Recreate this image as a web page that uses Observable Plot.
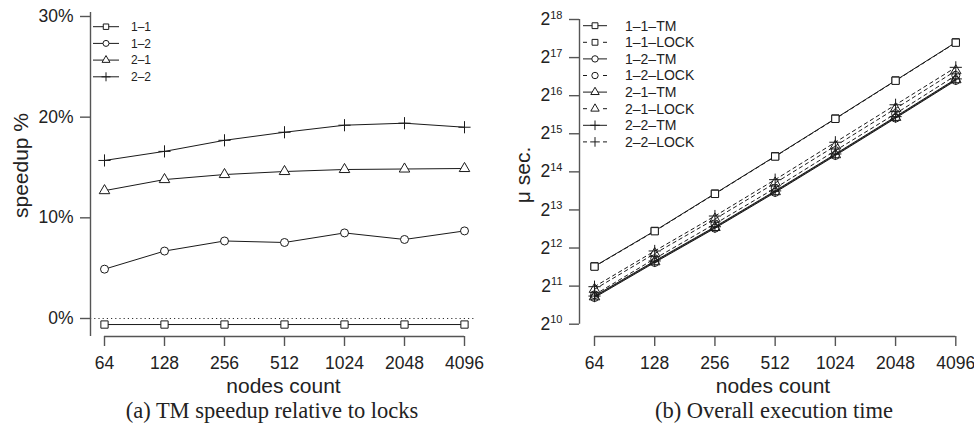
<!DOCTYPE html>
<html><head><meta charset="utf-8">
<script src="https://cdn.jsdelivr.net/npm/d3@7"></script>
<script src="https://cdn.jsdelivr.net/npm/@observablehq/plot@0.6"></script>
<style>
body{margin:0;background:#fff;}
#wrap{position:relative;width:974px;height:426px;overflow:hidden;font-family:"Liberation Sans",Arial,sans-serif;}
.panel{position:absolute;top:0;}
.cap{position:absolute;top:400px;font-family:"Liberation Serif","Times New Roman",serif;font-size:22.5px;line-height:22px;white-space:nowrap;transform:translateX(-50%);color:#222;}
</style></head><body>
<div id="wrap"></div>
<script>
// ---------- data ----------
const nodes = [64, 128, 256, 512, 1024, 2048, 4096];

// (a) TM speedup relative to locks, %
const speedupSeries = ["1–1", "1–2", "2–1", "2–2"];
const speedup11 = [-0.6, -0.6, -0.6, -0.6, -0.6, -0.6, -0.6];
const speedup12 = [4.9, 6.7, 7.7, 7.55, 8.5, 7.85, 8.7];
const speedup21 = [12.7, 13.8, 14.3, 14.6, 14.8, 14.85, 14.9];
const speedup22 = [15.7, 16.6, 17.7, 18.5, 19.2, 19.4, 19.0];
const speedupTicks = [0, 10, 20, 30];

// (b) Overall execution time, microseconds
const timeSeries = ["1–1–TM", "1–1–LOCK", "1–2–TM", "1–2–LOCK", "2–1–TM", "2–1–LOCK", "2–2–TM", "2–2–LOCK"];
const t11tm   = [2937, 5595, 11035, 21775, 43240, 86480, 172950];
const t11lock = [2920, 5560, 10970, 21645, 42980, 85960, 171910];
const t12tm   = [1663, 3147, 5873, 11268, 22073, 43538, 86475];
const t12lock = [1749, 3373, 6363, 12188, 24124, 47247, 94715];
const t21tm   = [1686, 3192, 5952, 11426, 22380, 44150, 87690];
const t21lock = [1931, 3703, 6945, 13380, 26268, 51850, 103043];
const t22tm   = [1709, 3238, 6035, 11585, 22690, 44760, 88910];
const t22lock = [2027, 3882, 7333, 14215, 28082, 55533, 109765];
const timeTicks = [1024, 2048, 4096, 8192, 16384, 32768, 65536, 131072, 262144];

// ---------- tables ----------
const speedupArrays = [speedup11, speedup12, speedup21, speedup22];
const speedupTable = speedupSeries.flatMap((s, k) => nodes.map((n, i) => ({series: s, nodes: n, value: speedupArrays[k][i]})));
const timeArrays = [t11tm, t11lock, t12tm, t12lock, t21tm, t21lock, t22tm, t22lock];
const timeTable = timeSeries.flatMap((s, k) => nodes.map((n, i) => ({series: s, nodes: n, value: timeArrays[k][i]})));

const symbolOf = {"1–1": "square", "1–2": "circle", "2–1": "triangle", "2–2": "plus"};
const rOf = {square: 4.1, circle: 4.0, triangle: 3.9, plus: 4.0};
const grp = s => s.slice(0, 3);

const AX = "#555", INK = "#1a1a1a";
const font = '"Liberation Sans", Arial, sans-serif';

// ---------- legend helper (drawn in pixel space after plotting) ----------
function drawLegend(svg, items, o) {
  const g = d3.select(svg).append("g").attr("aria-label", "legend").attr("transform", `translate(${o.shift || 0},0)`);
  items.forEach((it, i) => {
    const y = o.y0 + i * o.dy;
    const sym = symbolOf[grp(it)];
    const dashed = it.includes("LOCK");
    g.append("line").attr("x1", o.x0).attr("x2", o.x1).attr("y1", y).attr("y2", y)
      .attr("stroke", INK).attr("stroke-width", 1)
      .attr("stroke-dasharray", dashed ? "4,16,4" : null);
    const type = {square: d3.symbolSquare, circle: d3.symbolCircle, triangle: d3.symbolTriangle, plus: d3.symbolPlus}[sym];
    const r = rOf[sym] * o.k;
    g.append("path").attr("d", d3.symbol(type, Math.PI * r * r)())
      .attr("transform", `translate(${o.xs},${y})`)
      .attr("fill", "white").attr("stroke", INK).attr("stroke-width", 1);
    g.append("text").attr("x", o.xt).attr("y", y).attr("dy", "0.35em")
      .attr("text-anchor", "start")
      .attr("font-size", o.fs).attr("fill", "#222").attr("font-family", font).text(it);
  });
}

// ---------- (a) ----------
const yBotA = -18 / 10.067, yTopA = 306 / 10.067;
const xMinA = 2 ** (6 - 14 / 60), xMaxA = 2 ** (12 + 12 / 60);
const plotA = Plot.plot({
  width: 487, height: 400,
  marginLeft: 90, marginRight: 11, marginTop: 12, marginBottom: 64,
  style: {fontFamily: font, fontSize: "17.5px", background: "transparent", color: "#222"},
  x: {type: "log", base: 2, domain: [xMinA, xMaxA]},
  y: {domain: [yBotA, yTopA]},
  marks: [
    Plot.ruleY([0], {stroke: "#333", strokeWidth: 1, strokeDasharray: "1.2,3"}),
    Plot.ruleX([xMinA], {y1: () => yBotA, y2: () => yTopA, stroke: AX, strokeWidth: 1.4}),
    Plot.ruleY([yBotA], {x1: () => nodes[0], x2: () => nodes[nodes.length - 1], stroke: AX, strokeWidth: 1.4}),
    Plot.axisY(speedupTicks, {tickSize: 10, tickPadding: 7, tickFormat: d => d + "%", stroke: AX, strokeWidth: 1.4, label: null}),
    Plot.axisX(nodes, {tickSize: 10, tickPadding: 10, tickFormat: d => String(d), stroke: AX, strokeWidth: 1.4, label: null}),
    Plot.line(speedupTable, {x: "nodes", y: "value", z: "series", stroke: INK, strokeWidth: 1}),
    ...speedupSeries.map(s => Plot.dot(speedupTable.filter(d => d.series === s), {
      x: "nodes", y: "value", symbol: symbolOf[s], r: rOf[symbolOf[s]], stroke: INK, fill: "white", strokeWidth: 1
    })),
    Plot.text(["nodes count"], {frameAnchor: "bottom", lineAnchor: "middle", textAnchor: "middle", dy: 49.5, fontSize: 21, fill: "#222"}),
    Plot.text(["speedup %"], {frameAnchor: "left", lineAnchor: "middle", textAnchor: "middle", rotate: -90, dx: -69, dy: -9, fontSize: 21, fill: "#222"})
  ]
});
drawLegend(plotA, speedupSeries, {x0: 93, x1: 119, xs: 106, xt: 131, y0: 26.7, dy: 16.7, fs: 12, k: 0.75});

// ---------- (b) ----------
const pxPow = 304.7 / 8;
const yMinB = 2 ** (10 - 12.3 / pxPow), yMaxB = 2 ** 18;
const pxDbl = 361.3 / 6;
const xMinB = 2 ** (6 - 15 / pxDbl), xMaxB = 2 ** (12 + 10.7 / pxDbl);
const plotB = Plot.plot({
  width: 487, height: 400,
  marginLeft: 92, marginRight: 8, marginTop: 19, marginBottom: 64,
  style: {fontFamily: font, fontSize: "17.5px", background: "transparent", color: "#222"},
  x: {type: "log", base: 2, domain: [xMinB, xMaxB]},
  y: {type: "log", base: 2, domain: [yMinB, yMaxB]},
  marks: [
    Plot.ruleX([xMinB], {y1: () => timeTicks[0], y2: () => timeTicks[timeTicks.length - 1], stroke: AX, strokeWidth: 1.4}),
    Plot.ruleY([yMinB], {x1: () => nodes[0], x2: () => nodes[nodes.length - 1], stroke: AX, strokeWidth: 1.4}),
    Plot.axisY(timeTicks, {tickSize: 10, tickPadding: 7, tickFormat: d => "2^" + Math.round(Math.log2(d)), stroke: AX, strokeWidth: 1.4, label: null}),
    Plot.axisX(nodes, {tickSize: 10, tickPadding: 10, tickFormat: d => String(d), stroke: AX, strokeWidth: 1.4, label: null}),
    ...timeSeries.map(s => Plot.line(timeTable.filter(d => d.series === s), {
      x: "nodes", y: "value", stroke: INK, strokeWidth: 1, strokeDasharray: s.includes("LOCK") ? "3.5,3.5" : null
    })),
    ...timeSeries.map(s => Plot.dot(timeTable.filter(d => d.series === s), {
      x: "nodes", y: "value", symbol: symbolOf[grp(s)], r: rOf[symbolOf[grp(s)]], stroke: INK,
      fill: symbolOf[grp(s)] === "square" ? "white" : "none", strokeWidth: 1
    })),
    Plot.text(["nodes count"], {frameAnchor: "bottom", lineAnchor: "middle", textAnchor: "middle", dy: 49.5, fontSize: 21, fill: "#222"}),
    Plot.text(["μ sec."], {frameAnchor: "left", lineAnchor: "middle", textAnchor: "middle", rotate: -90, dx: -56, dy: -3, fontSize: 21, fill: "#222"})
  ]
});
// superscript exponents on the y tick labels
d3.select(plotB).selectAll('g[aria-label="y-axis tick label"] text').each(function () {
  const t = d3.select(this);
  const [b, e] = t.text().split("^");
  t.text(b);
  t.append("tspan").attr("dy", "-0.6em").attr("font-size", "11px").text(e);
});
// legend positions are given in page coordinates; the panel starts at 487
drawLegend(plotB, timeSeries, {x0: 583, x1: 607, xs: 595, xt: 625, y0: 25.7, dy: 16.6, fs: 14, k: 0.8, shift: -487});

// ---------- assemble ----------
const wrap = document.getElementById("wrap");
const pa = document.createElement("div"); pa.className = "panel"; pa.style.left = "0px"; pa.appendChild(plotA);
const pb = document.createElement("div"); pb.className = "panel"; pb.style.left = "487px"; pb.appendChild(plotB);
wrap.appendChild(pa); wrap.appendChild(pb);
const capA = document.createElement("div"); capA.className = "cap"; capA.style.left = "272px"; capA.textContent = "(a) TM speedup relative to locks";
const capB = document.createElement("div"); capB.className = "cap"; capB.style.left = "774px"; capB.textContent = "(b) Overall execution time";
wrap.appendChild(capA); wrap.appendChild(capB);
</script>
</body></html>
